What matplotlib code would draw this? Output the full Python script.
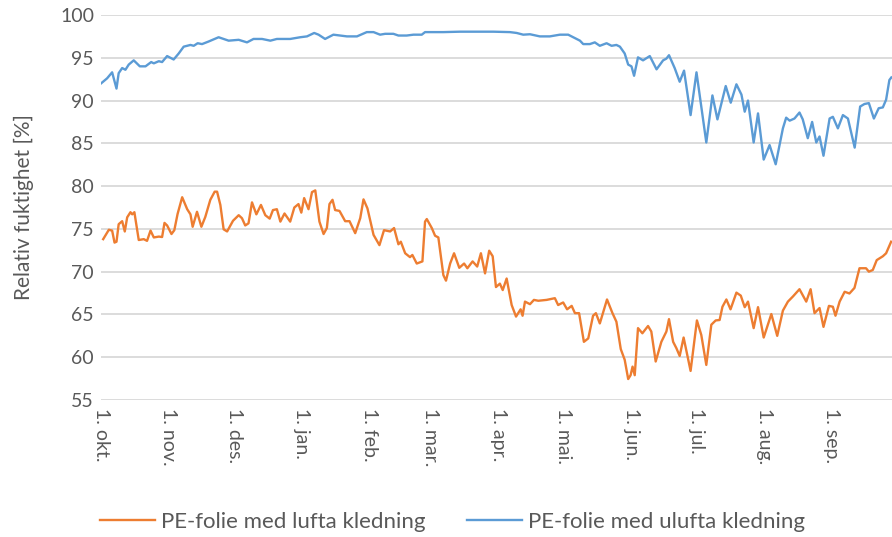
import matplotlib
matplotlib.use("Agg")
import matplotlib.pyplot as plt
from matplotlib.lines import Line2D

# Days after 1. okt. and relative humidity [%]
ulufta_days = [0, 2.8, 5.1, 7.1, 8.1, 9.7, 11.2, 12.7, 15.0, 17.8, 20.4, 23.0, 24.2, 26.5, 28.0,
               30.3, 33.3, 35.6, 37.9, 41.0, 42.5, 44.3, 46.3, 49.3, 53.9, 58.5, 63.1, 66.9, 69.9,
               73.8, 77.6, 80.6, 86.7, 91.3, 94.4, 97.7, 99.7, 102.7, 106.5, 112.7, 117.3, 121.8,
               124.9, 127.9, 130.2, 134.0, 136.3, 140.1, 143.2, 147.0, 148.5, 156.9, 164.5, 172.2,
               179.8, 187.4, 190.5, 193.5, 196.6, 201.1, 205.7, 210.3, 214.1, 216.4, 219.5, 221.0,
               224.0, 226.3, 228.6, 231.7, 234.0, 236.2, 237.8, 240.0, 241.6, 243.1, 244.3, 246.1,
               248.4, 251.5, 254.6, 257.6, 259.1, 260.3, 262.9, 265.2, 267.2, 270.2, 272.9, 275.1,
               277.4, 280.2, 282.5, 286.3, 288.6, 291.2, 293.5, 295.0, 296.5, 299.1, 301.1, 303.7,
               306.4, 309.2, 312.5, 314.0, 315.6, 317.8, 320.1, 321.6, 323.9, 325.9, 327.8, 329.3,
               331.1, 333.9, 335.4, 337.7, 340.0, 342.3, 345.4, 347.9, 349.9, 351.9, 354.2, 356.4,
               358.3, 359.8, 361.3, 362.2]
ulufta_rh = [92.0, 92.6, 93.3, 91.4, 93.2, 93.8, 93.6, 94.2, 94.7, 94.0, 94.0, 94.5, 94.35, 94.6, 94.5,
             95.2, 94.8, 95.5, 96.3, 96.5, 96.4, 96.7, 96.6, 96.9, 97.4, 97.0, 97.1, 96.8, 97.2,
             97.2, 97.0, 97.2, 97.2, 97.4, 97.5, 97.9, 97.7, 97.2, 97.7, 97.5, 97.5, 98.0,
             98.0, 97.7, 97.8, 97.8, 97.6, 97.6, 97.7, 97.7, 98.0, 98.0, 98.05, 98.05,
             98.05, 98.0, 97.9, 97.7, 97.75, 97.5, 97.5, 97.7, 97.7, 97.4, 97.0, 96.6,
             96.6, 96.8, 96.4, 96.7, 96.4, 96.5, 96.3, 95.5, 94.2, 94.0, 92.9, 95.05,
             94.7, 95.2, 93.65, 94.7, 94.9, 95.3, 93.8, 92.2, 93.5, 88.3, 93.3, 89.3,
             85.1, 90.6, 87.8, 91.7, 89.75, 91.9, 90.7, 88.7, 90.0, 85.1, 88.5, 83.1,
             84.8, 82.55, 86.75, 88.0, 87.65, 87.9, 88.6, 87.8, 85.6, 87.5, 85.1, 85.8,
             83.55, 87.9, 88.1, 86.75, 88.3, 87.9, 84.5, 89.3, 89.6, 89.7, 87.9, 89.1,
             89.2, 90.1, 92.4, 92.7]

lufta_days = [1.0, 3.6, 5.1, 6.2, 7.1, 8.1, 9.7, 10.9, 12.0, 13.5, 14.3, 15.3, 17.3, 19.6, 21.1,
              22.7, 24.2, 26.5, 28.0, 29.1, 30.3, 32.3, 33.6, 35.1, 37.2, 39.5, 41.0, 42.0, 44.0,
              46.0, 47.8, 50.1, 52.1, 53.2, 54.7, 56.2, 57.8, 60.5, 63.1, 64.6, 66.1, 67.6, 69.2,
              71.2, 73.3, 75.3, 77.3, 78.8, 80.6, 82.2, 84.1, 86.7, 88.6, 90.5, 91.8, 93.1, 95.1,
              96.7, 98.2, 100.1, 102.0, 103.5, 104.7, 106.1, 107.3, 109.3, 111.9, 113.9, 116.5,
              118.8, 120.3, 122.1, 124.9, 127.6, 129.7, 132.5, 134.3, 136.3, 137.4, 139.4, 141.6,
              142.7, 144.7, 147.3, 148.5, 149.3, 151.6, 153.1, 154.6, 156.9, 158.1, 160.0, 161.8,
              164.2, 166.4, 167.9, 170.3, 172.4, 174.1, 176.0, 177.9, 179.5, 181.0, 182.8, 184.1,
              185.9, 188.2, 190.2, 192.3, 193.2, 194.3, 196.6, 198.4, 200.4, 204.2, 208.0, 209.5,
              211.8, 213.6, 215.7, 217.2, 219.1, 221.3, 223.3, 225.5, 226.8, 228.6, 231.9, 234.4,
              236.2, 238.2, 240.0, 241.6, 242.7, 243.6, 244.6, 246.1, 248.1, 250.7, 252.2, 254.2,
              256.8, 259.1, 260.3, 262.2, 263.7, 265.2, 267.0, 270.2, 273.1, 275.1, 277.4, 279.7,
              281.7, 283.5, 284.8, 286.6, 288.5, 291.2, 293.2, 295.0, 296.5, 299.1, 301.1, 303.7,
              307.2, 309.9, 312.5, 314.8, 317.1, 320.1, 323.2, 325.2, 327.0, 329.3, 331.1, 333.6,
              335.4, 336.6, 338.5, 340.8, 343.0, 345.3, 347.6, 350.6, 351.9, 353.7, 355.5, 358.3,
              359.8, 362.1]
lufta_rh = [73.8, 74.9, 74.8, 73.4, 73.5, 75.55, 75.9, 74.7, 76.35, 76.95, 76.7, 76.95, 73.7, 73.8, 73.6,
            74.8, 74.0, 74.1, 74.05, 75.7, 75.4, 74.4, 74.85, 76.75, 78.7, 77.3, 76.7, 75.25, 77.0,
            75.25, 76.4, 78.4, 79.35, 79.35, 77.8, 74.95, 74.7, 75.95, 76.6, 76.25, 75.4, 75.65, 78.1,
            76.7, 77.8, 76.6, 76.2, 77.2, 77.3, 75.85, 76.8, 75.85, 77.5, 77.9, 76.9, 78.6, 77.3,
            79.3, 79.5, 75.85, 74.4, 75.1, 77.9, 78.4, 77.2, 77.1, 75.9, 75.9, 74.5,
            76.25, 78.45, 77.4, 74.3, 73.1, 74.85, 74.7, 75.1, 73.2, 73.5, 72.15, 71.7,
            71.95, 70.95, 71.2, 75.85, 76.15, 75.1, 74.2, 74.0, 69.6, 68.95, 70.95, 72.15,
            70.45, 70.95, 70.4, 71.2, 70.6, 72.15, 69.8, 72.45, 71.8, 68.2, 68.6, 67.85,
            69.2, 66.1, 64.75, 65.6, 64.85, 66.5, 66.2, 66.7, 66.6, 66.7, 66.9, 66.1,
            66.4, 65.6, 66.0, 65.15, 65.15, 61.8, 62.2, 64.85, 65.15, 63.95, 66.75, 65.15,
            64.15, 60.95, 59.7, 57.45, 57.9, 58.9, 57.9, 63.4, 62.8, 63.65, 63.0, 59.5,
            61.8, 63.0, 64.45, 61.8, 61.05, 60.15, 62.3, 58.4, 64.3, 62.6, 59.1, 63.8,
            64.3, 64.35, 65.9, 66.75, 65.6, 67.55, 67.2, 65.85, 66.5, 63.4, 65.85, 62.3,
            65.05, 62.5, 65.45, 66.5, 67.1, 67.95, 66.5, 67.95, 65.15, 65.75, 63.55, 66.0,
            65.9, 64.85, 66.5, 67.65, 67.45, 68.1, 70.4, 70.4, 70.0, 70.2, 71.35, 71.8,
            72.15, 73.5]

month_days = [0, 31, 61, 92, 123, 151, 182, 212, 243, 273, 304, 335]
month_labels = ["1. okt.", "1. nov.", "1. des.", "1. jan.", "1. feb.", "1. mar.",
                "1. apr.", "1. mai.", "1. jun.", "1. jul.", "1. aug.", "1. sep."]
y_ticks = [55, 60, 65, 70, 75, 80, 85, 90, 95, 100]

ORANGE = "#ED7D31"
BLUE = "#5B9BD5"
TEXT = "#595959"
GRID = "#D9D9D9"

plt.rcParams["font.family"] = ["Lato", "DejaVu Sans"]

fig = plt.figure(figsize=(8.92, 5.37), dpi=100)
ax = fig.add_axes([101 / 892, 1 - 400 / 537, 791 / 892, 385 / 537])

ax.plot(lufta_days, lufta_rh, color=ORANGE, lw=1.7, solid_joinstyle="round")
ax.plot(ulufta_days, ulufta_rh, color=BLUE, lw=1.7, solid_joinstyle="round")

ax.set_xlim(0, 362.5)
ax.set_ylim(55, 100)
ax.set_yticks(y_ticks)
ax.set_xticks(month_days)
ax.set_xticklabels(month_labels, rotation=-90, va="top", ha="center")
ax.tick_params(axis="both", length=0, labelsize=14, colors=TEXT)
ax.tick_params(axis="x", pad=6)
ax.tick_params(axis="y", pad=5)
ax.grid(axis="y", color=GRID, lw=1.3)
ax.set_axisbelow(True)
for s in ax.spines.values():
    s.set_visible(False)

ax.set_ylabel("Relativ fuktighet [%]", fontsize=15, color=TEXT, labelpad=19)

handles = [Line2D([], [], color=ORANGE, lw=1.7), Line2D([], [], color=BLUE, lw=1.7)]
fig.legend(handles, ["PE-folie med lufta kledning", "PE-folie med ulufta kledning"],
           loc="center", bbox_to_anchor=(0.507, 1 - 522 / 537), ncol=2, frameon=False,
           fontsize=16, labelcolor=TEXT, handlelength=2.5, handletextpad=0.25,
           columnspacing=1.85)

fig.savefig("out.png", dpi=100)
